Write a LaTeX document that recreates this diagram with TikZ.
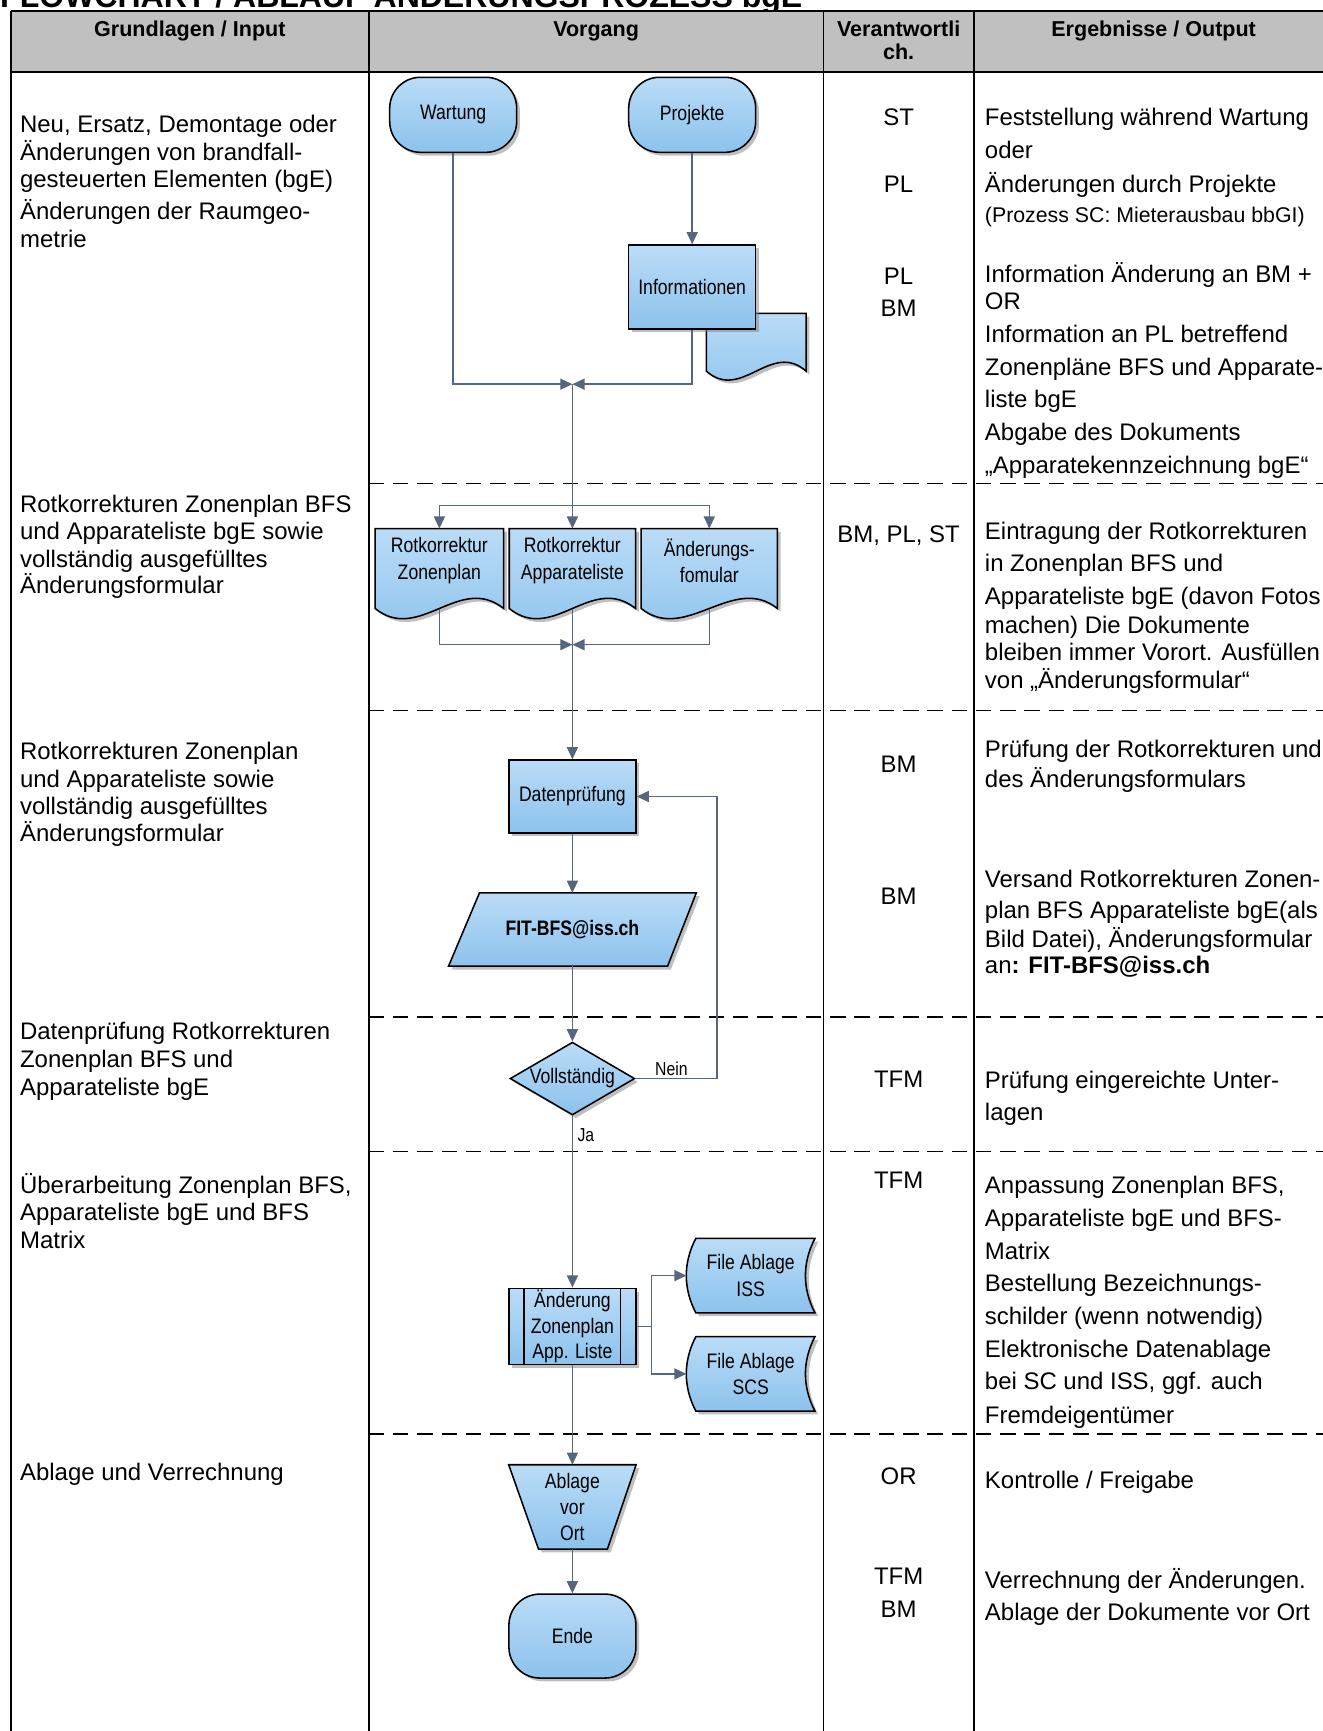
\documentclass[tikz,border=0pt]{standalone}
\usepackage{fontspec}
\setmainfont{Liberation Sans}
\newfontfamily\narrowfont[FakeStretch=0.84]{Liberation Sans}
\usetikzlibrary{positioning,shapes.geometric,arrows.meta,shadows,calc}

\definecolor{shapetop}{HTML}{BADCF7}
\definecolor{shapebot}{HTML}{8CC2EC}
\definecolor{conncol}{HTML}{56667E}
\definecolor{headgray}{HTML}{C0C0C0}

\tikzset{
  shapefill/.style={draw=black, line width=1.4pt, top color=shapetop, bottom color=shapebot,
    drop shadow={shadow xshift=3pt, shadow yshift=-3pt, fill=black!50, opacity=0.5}},
  shapetext/.style={font=\narrowfont\fontsize{19}{24}\selectfont, align=center, text=black},
  terminal/.style={shapefill, shapetext, rectangle, rounded corners=28pt, minimum width=115pt, minimum height=68pt},
  process/.style={shapefill, shapetext, rectangle, inner sep=0pt, minimum width=115pt, minimum height=67pt},
  anchorbox/.style={rectangle, inner sep=0pt},
  conn/.style={draw=conncol, line width=1.3pt, -{Triangle[length=11pt,width=10pt]}},
  plainconn/.style={draw=conncol, line width=1.3pt},
  labeltext/.style={font=\narrowfont\fontsize{17}{18}\selectfont, inner sep=2pt},
  bodytext/.style={anchor=base west, inner sep=0pt, font=\fontsize{21.7}{25}\selectfont},
  resptext/.style={anchor=base, inner sep=0pt, font=\fontsize{21.7}{25}\selectfont},
  headtext/.style={anchor=base, inner sep=0pt, font=\bfseries\fontsize{19.5}{21}\selectfont},
  gridline/.style={line width=1.7pt},
  sepline/.style={line width=1.5pt, dash pattern=on 14pt off 8pt},
}

% document symbol: box for the text, sides run on 14pt, wavy foot
\newcommand{\docnode}[4]{%
  \node[anchorbox, minimum width=#3, minimum height=58pt] (#1) at (#2) {};
  \path[shapefill] (#1.north west) -- (#1.north east) -- ($(#1.south east)+(0,14)$)
    .. controls +(-40,-32) and +(40,32) .. ($(#1.south west)+(0,14)$) -- cycle;
  \node[shapetext] (#1-txt) at (#1) {#4};}

% stored data symbol
\newcommand{\storednode}[3]{%
  \node[anchorbox, minimum width=116pt, minimum height=67pt] (#1) at (#2) {};
  \path[shapefill] ($(#1.north west)+(8.5,0)$) -- (#1.north east)
    .. controls +(-11.5,22) and +(-11.5,-22) .. (#1.south east)
    -- ($(#1.south west)+(8.5,0)$)
    .. controls +(-11.5,-22) and +(-11.5,22) .. ($(#1.north west)+(8.5,0)$) -- cycle;
  \node[shapetext] (#1-txt) at (#1) {#3};}

\begin{document}
\begin{tikzpicture}[x=1pt, y=-1pt]
  \useasboundingbox (0,0) rectangle (1198,1568);
  % title, cut by the page edge
  \node[anchor=base west, inner sep=0pt, font=\bfseries\fontsize{29}{30}\selectfont] (title) at (0,6.5) {FLOWCHART / ABLAUF ÄNDERUNGSPROZESS bgE};

  % table
  \fill[headgray] (10,10) rectangle (1210,65);
  \draw[gridline] (10,10) -- (1210,10);
  \draw[line width=2pt] (10,65) -- (1210,65);
  \foreach \x in {10,334,746,882}
    \draw[gridline] (\x,10) -- (\x,1580);
  \foreach \y in {438,643.5,921.5,1043,1299}
    \draw[sepline] (334,\y) -- (1210,\y);

  \node[headtext] (h-input) at (172,33) {Grundlagen / Input};
  \node[headtext] (h-vorgang) at (540,33) {Vorgang};
  \node[headtext] (h-verantw) at (814,33) {Verantwortli};
  \node[headtext] (h-ch) at (814,54) {ch.};
  \node[headtext] (h-output) at (1045,33) {Ergebnisse / Output};

  % Grundlagen / Input
  \foreach \y/\t in {120/{Neu, Ersatz, Demontage oder}, 145/{Änderungen von brandfall-},
      170/{gesteuerten Elementen (bgE)}, 199/{Änderungen der Raumgeo-}, 224/{metrie},
      464/{Rotkorrekturen Zonenplan BFS}, 489/{und Apparateliste bgE sowie},
      514/{vollständig ausgefülltes}, 538/{Änderungsformular},
      688/{Rotkorrekturen Zonenplan}, 713/{und Apparateliste sowie},
      738/{vollständig ausgefülltes}, 762/{Änderungsformular},
      942/{Datenprüfung Rotkorrekturen}, 967/{Zonenplan BFS und}, 992/{Apparateliste bgE},
      1081/{Überarbeitung Zonenplan BFS,}, 1106/{Apparateliste bgE und BFS}, 1131/{Matrix},
      1341/{Ablage und Verrechnung}}
    \node[bodytext] (in\y) at (18,\y) {\t};

  % Verantwortlich
  \foreach \y/\t in {114/ST, 174/PL, 258/PL, 287/BM, 491/{BM, PL, ST}, 700/BM, 819/BM,
      985/TFM, 1077/TFM, 1345/OR, 1435/TFM, 1465/BM}
    \node[resptext] (resp\y) at (814,\y) {\t};

  % Ergebnisse / Output
  \foreach \y/\t in {114/{Feststellung während Wartung}, 144/{oder}, 174/{Änderungen durch Projekte},
      256/{Information Änderung an BM +}, 280/{OR}, 310/{Information an PL betreffend},
      340/{Zonenpläne BFS und Apparate-}, 369/{liste bgE}, 399/{Abgabe des Dokuments},
      429/{„Apparatekennzeichnung bgE“},
      489/{Eintragung der Rotkorrekturen}, 518/{in Zonenplan BFS und},
      548/{Apparateliste bgE (davon Fotos}, 574/{machen) Die Dokumente},
      598/{bleiben immer Vorort. Ausfüllen}, 624/{von „Änderungsformular“},
      686/{Prüfung der Rotkorrekturen und}, 713/{des Änderungsformulars},
      804/{Versand Rotkorrekturen Zonen-}, 832/{plan BFS Apparateliste bgE(als},
      858/{Bild Datei), Änderungsformular}, 882/{an\textbf{: FIT-BFS@iss.ch}},
      986/{Prüfung eingereichte Unter-}, 1015/{lagen},
      1081/{Anpassung Zonenplan BFS,}, 1111/{Apparateliste bgE und BFS-}, 1141/{Matrix},
      1170/{Bestellung Bezeichnungs-}, 1200/{schilder (wenn notwendig)},
      1230/{Elektronische Datenablage}, 1259/{bei SC und ISS, ggf. auch}, 1289/{Fremdeigentümer},
      1348/{Kontrolle / Freigabe}, 1439/{Verrechnung der Änderungen.},
      1468/{Ablage der Dokumente vor Ort}}
    \node[bodytext] (out\y) at (892,\y) {\t};
  \node[bodytext, font=\fontsize{19.3}{22}\selectfont] (out202) at (892,202) {(Prozess SC: Mieterausbau bbGI)};

  % Vorgang
  \node[terminal] (wartung) at (410.5,104) {Wartung};
  \node[terminal] (projekte) at (627,104) {Projekte};
  \node[anchorbox, minimum width=90pt, minimum height=52pt] (infodoc) at (685,310) {};
  \path[shapefill] (infodoc.north west) -- (infodoc.north east) -- (infodoc.south east)
    .. controls +(-32,-28) and +(32,28) .. (infodoc.south west) -- cycle;
  \node[process, minimum height=76pt] (info) at (627,260) {Informationen};

  \coordinate (j1) at (518.5,348);
  \coordinate (split) at (518.5,458);
  \coordinate (j2) at (518.5,584);
  \docnode{rkzone}{398,508}{116pt}{Rotkorrektur\\Zonenplan}
  \docnode{rkapp}{518.5,508}{114pt}{Rotkorrektur\\Apparateliste}
  \docnode{aform}{642.5,508}{123pt}{Änderungs-\\fomular}

  \node[process, minimum height=66pt] (pruef) at (518.5,721.5) {Datenprüfung};
  \node[anchorbox, minimum width=224pt, minimum height=66pt] (mail) at (518.5,842) {};
  \path[shapefill] ($(mail.north west)+(28,0)$) -- (mail.north east)
    -- ($(mail.south east)+(-26,0)$) -- (mail.south west) -- cycle;
  \node[shapetext, font=\narrowfont\bfseries\fontsize{19}{24}\selectfont] (mail-txt) at (mail) {FIT-BFS@iss.ch};
  \node[shapefill, shapetext, diamond, aspect=1.7, inner sep=0pt, minimum width=113pt, minimum height=66pt] (voll) at (518.5,977) {Vollständig};
  \coordinate (loop) at (649.5,721.5);

  \node[process, minimum height=69pt, font=\narrowfont\fontsize{19}{23}\selectfont] (aend) at (518.5,1201.5) {Änderung\\Zonenplan\\App. Liste};
  \draw[line width=1.4pt] ($(aend.north west)+(14.5,0)$) -- ($(aend.south west)+(14.5,0)$);
  \draw[line width=1.4pt] ($(aend.north east)+(-14.5,0)$) -- ($(aend.south east)+(-14.5,0)$);
  \coordinate (fork) at (590,1201.5);
  \storednode{iss}{680,1155.5}{File Ablage\\ISS}
  \storednode{scs}{680,1244.5}{File Ablage\\SCS}

  \node[anchorbox, minimum width=115pt, minimum height=76pt] (ablage) at (518.5,1365) {};
  \path[shapefill] (ablage.north west) -- (ablage.north east)
    -- ($(ablage.south east)+(-26,0)$) -- ($(ablage.south west)+(27,0)$) -- cycle;
  \node[shapetext, font=\narrowfont\fontsize{19}{23.5}\selectfont] (ablage-txt) at (ablage) {Ablage\\vor\\Ort};
  \node[terminal, minimum height=76pt] (ende) at (518.5,1482) {Ende};

  % connectors
  \draw[conn] (wartung) |- (j1);
  \draw[conn] (projekte) -- (info);
  \draw[conn] (info) |- (j1);
  \draw[conn] (j1) -- (rkapp.north);
  \draw[conn] (split) -| (rkzone.north);
  \draw[conn] (split) -| (aform.north);
  \draw[conn] ($(rkzone.south)+(0,14)$) |- (j2);
  \draw[conn] ($(aform.south)+(0,14)$) |- (j2);
  \draw[conn] ($(rkapp.south)+(0,14)$) -- (pruef);
  \draw[conn] (pruef) -- (mail);
  \draw[conn] (mail) -- (voll);
  \draw[conn] (voll.east) -| node[labeltext, pos=0.22, above] (nein) {Nein} (loop) -- (pruef.east);
  \draw[conn] (voll) -- node[labeltext, pos=0.11, right, xshift=2pt] (ja) {Ja} (aend);
  \draw[plainconn] (aend) -- (fork);
  \draw[conn] (fork) |- (iss);
  \draw[conn] (fork) |- (scs);
  \draw[conn] (aend) -- (ablage);
  \draw[conn] (ablage) -- (ende);
\end{tikzpicture}
\end{document}
